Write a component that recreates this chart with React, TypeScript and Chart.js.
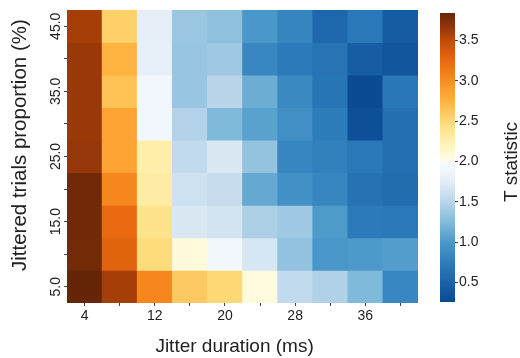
import React, { useEffect, useRef } from 'react';
import { Chart, registerables } from 'chart.js';

Chart.register(...registerables);

// ---- data ----
const durations = [4, 8, 12, 16, 20, 24, 28, 32, 36, 40];
const proportions = [45, 40, 35, 30, 25, 20, 15, 10, 5];

const t45 = [3.6, 2.55, 1.78, 1.36, 1.31, 1.0, 0.82, 0.55, 0.7, 0.44];
const t40 = [3.65, 2.75, 1.8, 1.35, 1.38, 0.84, 0.72, 0.66, 0.45, 0.38];
const t35 = [3.65, 2.65, 1.9, 1.35, 1.5, 1.15, 0.86, 0.68, 0.27, 0.69];
const t30 = [3.65, 2.85, 1.9, 1.47, 1.24, 1.07, 0.92, 0.75, 0.32, 0.63];
const t25 = [3.66, 2.85, 2.27, 1.55, 1.7, 1.33, 0.83, 0.79, 0.7, 0.62];
const t20 = [3.8, 3.05, 2.3, 1.62, 1.58, 1.12, 0.93, 0.83, 0.65, 0.6];
const t15 = [3.8, 3.25, 2.4, 1.7, 1.65, 1.44, 1.38, 1.02, 0.72, 0.7];
const t10 = [3.79, 3.3, 2.48, 2.08, 1.92, 1.68, 1.32, 0.99, 1.01, 1.04];
const t5 = [3.84, 3.6, 3.05, 2.6, 2.5, 2.06, 1.55, 1.46, 1.24, 0.84];

const rowValues = [t45, t40, t35, t30, t25, t20, t15, t10, t5];

const xTickLabels = [4, 12, 20, 28, 36];
const yTickLabels = [5, 15, 25, 35, 45];
const cbTickValues = [0.5, 1.0, 1.5, 2.0, 2.5, 3.0, 3.5];
const tMin = 0.26;
const tMax = 3.84;

// colormap (value -> colour)
const cmapValues = [0.26, 0.5, 0.75, 1.0, 1.25, 1.5, 1.75, 1.96, 2.05, 2.25, 2.5, 2.75, 3.0, 3.25, 3.5, 3.67, 3.84];
const cmapColors = [
  '#0a4a92', '#1a62a8', '#2e7dbb', '#4a98c9', '#82bbdb', '#bad5ea', '#e2edf7', '#f7fbff',
  '#fffbe0', '#fff1b0', '#fed976', '#feb23f', '#f98d22', '#e8690f', '#c24a05', '#93360a', '#662506',
];

const FONT = '"Liberation Sans", Arial, Helvetica, sans-serif';
const TEXT = '#222222';
const TICK = '#444444';

function hexRgb(h: string): number[] {
  const n = parseInt(h.slice(1), 16);
  return [(n >> 16) & 255, (n >> 8) & 255, n & 255];
}

function tColor(v: number): string {
  if (v <= cmapValues[0]) return cmapColors[0];
  const last = cmapValues.length - 1;
  if (v >= cmapValues[last]) return cmapColors[last];
  let i = 0;
  while (v > cmapValues[i + 1]) i++;
  const f = (v - cmapValues[i]) / (cmapValues[i + 1] - cmapValues[i]);
  const a = hexRgb(cmapColors[i]);
  const b = hexRgb(cmapColors[i + 1]);
  const c = a.map((x, k) => Math.round(x + (b[k] - x) * f));
  return `rgb(${c[0]},${c[1]},${c[2]})`;
}

const titlePlugin = {
  id: 'cbTitle',
  afterDraw(chart: any) {
    const ctx = chart.ctx;
    ctx.save();
    ctx.translate(82, 162);
    ctx.rotate(-Math.PI / 2);
    ctx.font = `19px ${FONT}`;
    ctx.fillStyle = TEXT;
    ctx.textAlign = 'center';
    ctx.textBaseline = 'middle';
    ctx.fillText('T statistic', 0, 0);
    ctx.restore();
  },
};

export default function App() {
  const mainRef = useRef<HTMLCanvasElement>(null);
  const cbRef = useRef<HTMLCanvasElement>(null);

  useEffect(() => {
    Chart.defaults.font.family = FONT;
    const datasets = proportions.map((p, r) => ({
      label: `${p}%`,
      data: durations.map(() => [p - 2.5, p + 2.5]),
      backgroundColor: rowValues[r].map(tColor),
      borderWidth: 0,
      barPercentage: 1,
      categoryPercentage: 1,
    }));

    const main = new Chart(mainRef.current!, {
      type: 'bar',
      data: { labels: durations.map(String), datasets: datasets as any },
      options: {
        animation: false,
        responsive: false,
        layout: { padding: { left: 0, top: 10, right: 102, bottom: 0 } },
        plugins: { legend: { display: false }, tooltip: { enabled: false } },
        scales: {
          x: {
            type: 'category',
            stacked: true,
            offset: true,
            grid: { offset: false, drawOnChartArea: false, drawTicks: true, tickLength: 3, color: TICK },
            border: { display: false },
            ticks: {
              autoSkip: false,
              maxRotation: 0,
              padding: 2,
              color: TEXT,
              font: { size: 14 },
              callback: (_v: any, i: number) => (xTickLabels.includes(durations[i]) ? String(durations[i]) : ''),
            },
            title: { display: true, text: 'Jitter duration (ms)   ', color: TEXT, font: { size: 19 }, padding: { top: 0, bottom: 0 } },
            afterFit: (s: any) => { s.height = 55; },
          },
          y: {
            type: 'linear',
            stacked: false,
            min: 2.5,
            max: 47.5,
            afterBuildTicks: (s: any) => { s.ticks = [...proportions].reverse().map((v) => ({ value: v })); },
            grid: { drawOnChartArea: false, drawTicks: true, tickLength: 3, color: TICK },
            border: { display: false },
            ticks: {
              autoSkip: false,
              minRotation: 90,
              maxRotation: 90,
              crossAlign: 'center',
              padding: -6,
              color: TEXT,
              font: { size: 14 },
              callback: (v: any) => (yTickLabels.includes(Number(v)) ? Number(v).toFixed(1) : ''),
            },
            title: { display: true, text: '    Jittered trials proportion (%)', color: TEXT, font: { size: 20.5 }, padding: { top: 8, bottom: 0 } },
            afterFit: (s: any) => { s.width = 67; },
          },
        },
      } as any,
    });

    const cb = new Chart(cbRef.current!, {
      type: 'bar',
      data: {
        labels: ['T'],
        datasets: [{
          data: [[tMin, tMax]],
          borderWidth: 0,
          barPercentage: 1,
          categoryPercentage: 1,
          backgroundColor: (c: any) => {
            const chart = c.chart;
            const ys = chart.scales.y;
            if (!ys || !chart.chartArea) return cmapColors[0];
            const y0 = ys.getPixelForValue(tMin);
            const y1 = ys.getPixelForValue(tMax);
            const g = chart.ctx.createLinearGradient(0, y0, 0, y1);
            cmapValues.forEach((v, i) => g.addColorStop((v - tMin) / (tMax - tMin), cmapColors[i]));
            return g;
          },
        }] as any,
      },
      options: {
        animation: false,
        responsive: false,
        layout: { padding: { left: 10, top: 13, bottom: 56, right: 0 } },
        plugins: { legend: { display: false }, tooltip: { enabled: false } },
        scales: {
          x: { display: false },
          y: {
            position: 'right',
            min: tMin,
            max: tMax,
            afterBuildTicks: (s: any) => { s.ticks = cbTickValues.map((v) => ({ value: v })); },
            grid: { drawOnChartArea: false, drawTicks: true, tickLength: 3, color: TICK },
            border: { display: false },
            ticks: { padding: 1, color: TEXT, font: { size: 14 }, callback: (v: any) => Number(v).toFixed(1) },
            afterFit: (s: any) => { s.width = 65; },
          },
        },
      } as any,
      plugins: [titlePlugin],
    });

    return () => {
      main.destroy();
      cb.destroy();
    };
  }, []);

  return (
    <div style={{ position: 'absolute', left: 0, top: 0, width: 520, height: 358, background: '#fff' }}>
      <canvas ref={mainRef} width={520} height={358} style={{ position: 'absolute', left: 0, top: 0, display: 'block' }} />
      <canvas ref={cbRef} width={90} height={358} style={{ position: 'absolute', left: 430, top: 0, display: 'block' }} />
    </div>
  );
}
